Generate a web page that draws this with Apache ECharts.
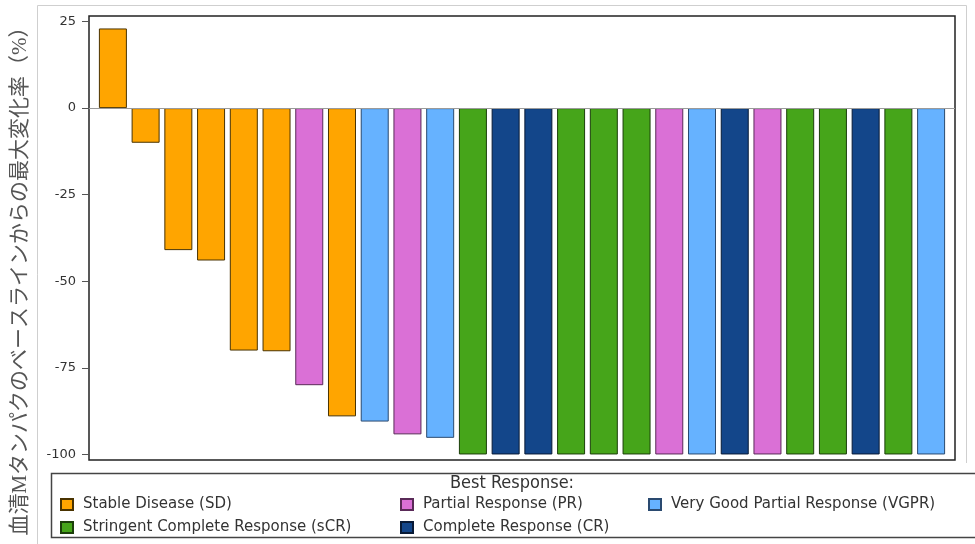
<!DOCTYPE html>
<html>
<head>
<meta charset="utf-8">
<script src="https://cdn.jsdelivr.net/npm/echarts@6/dist/echarts.min.js"></script>
<style>
  html, body { margin: 0; padding: 0; background: #fff; }
  #chart { width: 975px; height: 544px; }
</style>
</head>
<body>
<div id="chart"></div>
<script>
// Best response per patient, sorted by maximal change of serum M-protein from baseline
const responses = ['SD', 'SD', 'SD', 'SD', 'SD', 'SD', 'PR', 'SD', 'VGPR', 'PR', 'VGPR',
  'sCR', 'CR', 'CR', 'sCR', 'sCR', 'sCR', 'PR', 'VGPR', 'CR', 'PR', 'sCR', 'sCR', 'CR', 'sCR', 'VGPR'];
const changes = [23, -10, -41, -44, -70, -70.2, -80, -89, -90.5, -94.2, -95.2,
  -100, -100, -100, -100, -100, -100, -100, -100, -100, -100, -100, -100, -100, -100, -100];

// Response groups (code, legend label, fill, outline)
const groupCodes = ['SD', 'PR', 'VGPR', 'sCR', 'CR'];
const groupLabels = ['Stable Disease (SD)', 'Partial Response (PR)', 'Very Good Partial Response (VGPR)',
  'Stringent Complete Response (sCR)', 'Complete Response (CR)'];
const groupColors = ['#ffa500', '#da70d6', '#66b2ff', '#46a51a', '#13468a'];
const groupBorders = ['#4a3300', '#5a2a58', '#2a4a70', '#1c3f0a', '#081a36'];

const yTicks = [-100, -75, -50, -25, 0, 25];
const yTitle = '血清Mタンパクのベースラインからの最大変化率（%）';
const legendTitle = 'Best Response:';

const series = groupCodes.map((code, g) => ({
  type: 'bar',
  name: groupLabels[g],
  barWidth: 28,
  barGap: '-100%',
  itemStyle: { color: groupColors[g], borderColor: groupBorders[g], borderWidth: 1 },
  data: responses.map((r, i) => (r === code ? [i, changes[i]] : null)).filter(d => d),
  markLine: g === 0 ? {
    silent: true, symbol: 'none', label: { show: false },
    lineStyle: { color: '#9a9a9a', width: 1, type: 'solid' },
    data: [{ yAxis: 0 }]
  } : undefined,
  z: 3
}));

// Legend slots: two rows, three columns
const legendSlots = [[60, 0], [400, 0], [648, 0], [60, 1], [400, 1]];
const legends = groupLabels.map((name, g) => ({
  data: [name],
  left: legendSlots[g][0],
  top: 497 + legendSlots[g][1] * 23,
  padding: 0,
  icon: 'rect',
  itemWidth: 12,
  itemHeight: 11,
  selectedMode: false,
  textStyle: { fontFamily: 'DejaVu Sans', fontSize: 15, color: '#333', padding: [0, 0, 0, 5] }
}));

const chart = echarts.init(document.getElementById('chart'), null, { renderer: 'canvas' });
chart.setOption({
  animation: false,
  backgroundColor: '#fff',
  grid: {
    left: 89, top: 16, width: 866, height: 444,
    show: true, borderColor: '#222', borderWidth: 1.5, backgroundColor: 'transparent'
  },
  xAxis: {
    type: 'value', min: -0.73, max: 25.73, show: false
  },
  yAxis: {
    type: 'value', min: -101.6, max: 26.6,
    axisLine: { show: false, onZero: false },
    splitLine: { show: false },
    axisTick: { show: true, length: 7, customValues: yTicks, lineStyle: { color: '#555' } },
    axisLabel: {
      customValues: yTicks, margin: 13,
      fontFamily: 'DejaVu Sans', fontSize: 13, color: '#333'
    }
  },
  legend: legends,
  series: series,
  graphic: [
    {
      type: 'polyline', silent: true, z: 0,
      shape: { points: [[37.5, 544], [37.5, 5.5], [966.5, 5.5], [966.5, 463]] },
      style: { stroke: '#cfcfcf', fill: null, lineWidth: 1 }
    },
    {
      type: 'rect', silent: true,
      shape: { x: 51.5, y: 473.5, width: 1000, height: 64 },
      style: { stroke: '#444', fill: null, lineWidth: 1.5 }
    },
    {
      type: 'text', silent: true,
      x: 512, y: 483,
      style: {
        text: legendTitle, align: 'center', verticalAlign: 'middle',
        fontFamily: 'DejaVu Sans Condensed, DejaVu Sans', fontSize: 18, fill: '#333'
      }
    },
    {
      type: 'text', silent: true,
      x: 20, y: 276, rotation: Math.PI / 2,
      style: {
        text: yTitle, align: 'center', verticalAlign: 'middle',
        fontFamily: "'Liberation Serif', 'Noto Sans CJK JP'", fontSize: 21, fill: '#555'
      }
    }
  ]
});
</script>
</body>
</html>
